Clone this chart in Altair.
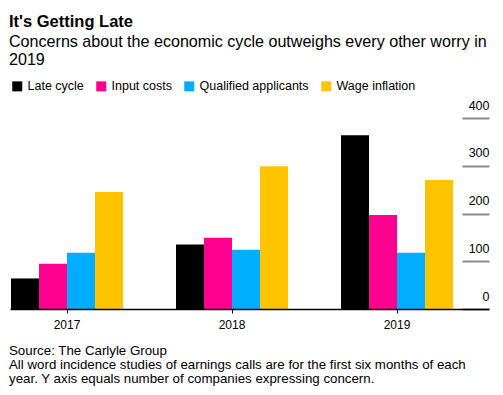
import altair as alt
import pandas as pd

years = ["2017", "2018", "2019"]
series = ["Late cycle", "Input costs", "Qualified applicants", "Wage inflation"]
late_cycle = [64, 135, 364]
input_costs = [95, 149, 197]
qualified = [118, 124, 118]
wage_inflation = [245, 299, 270]
colors = ["#000000", "#ff0091", "#00adff", "#ffc400"]
y_ticks = [0, 100, 200, 300, 400]

title = "It's Getting Late"
subtitle = "Concerns about the economic cycle outweighs every other worry in\n2019"
footer = ("Source: The Carlyle Group\n"
          "All word incidence studies of earnings calls are for the first six months of each\n"
          "year. Y axis equals number of companies expressing concern.")

rows = []
for i, yr in enumerate(years):
    for s, vals in zip(series, [late_cycle, input_costs, qualified, wage_inflation]):
        rows.append({"year": yr, "series": s, "value": vals[i]})
df = pd.DataFrame(rows)

W, H = 479, 191
FONT = "Liberation Sans"

bars = alt.Chart(df).mark_bar().encode(
    x=alt.X("year:N", sort=years,
            scale=alt.Scale(paddingInner=0.321, paddingOuter=0.112, align=0.027),
            axis=alt.Axis(title=None, labelAngle=0, domainColor="black", domainWidth=1.5,
                          tickColor="black", tickSize=4, tickWidth=1, labelFontSize=12,
                          labelPadding=6, labelColor="black", zindex=1)),
    xOffset=alt.XOffset("series:N", sort=series,
                        scale=alt.Scale(paddingInner=0, paddingOuter=0)),
    y=alt.Y("value:Q", scale=alt.Scale(domain=[0, 400], nice=False),
            axis=alt.Axis(orient="right", values=y_ticks, title=None, domain=False, grid=False,
                          offset=-27, tickSize=27, tickColor="#8a8a8a", tickWidth=2,
                          labelAlign="right", labelBaseline="alphabetic", labelOffset=-9,
                          labelPadding=0, labelFontSize=12.5, labelColor="black")),
    color=alt.Color("series:N", sort=series,
                    scale=alt.Scale(domain=series, range=colors),
                    legend=alt.Legend(title=None, orient="none", legendX=1, legendY=-38,
                                      direction="horizontal", columns=4, symbolType="square",
                                      symbolSize=100, symbolStrokeWidth=0, labelFontSize=12.5,
                                      labelOffset=4, columnPadding=11, labelColor="black")),
)


def text_layer(txt, x, y, size, weight="normal", lh=None):
    kw = dict(align="left", baseline="alphabetic", font=FONT, fontSize=size,
              fontWeight=weight, color="black", lineBreak="\n")
    if lh is not None:
        kw["lineHeight"] = lh
    return alt.Chart(pd.DataFrame({"t": [txt]})).mark_text(**kw).encode(
        text="t:N", x=alt.value(x), y=alt.value(y))


t_title = text_layer(title, -1, -91.3, 16.5, "bold")
t_sub = text_layer(subtitle, -1, -71.5, 16.1, lh=18.5)
t_foot = text_layer(footer, -1, 236.5, 13.3, lh=14.3)

chart = alt.layer(bars, t_title, t_sub, t_foot).properties(
    width=W, height=H,
    autosize=alt.AutoSizeParams(type="none"),
    padding={"left": 2, "top": 110, "right": 6, "bottom": 78},
).configure_view(stroke=None).configure_axis(labelFont=FONT).configure_legend(labelFont=FONT)

chart.save("out.html", embed_options={"renderer": "svg", "actions": False})
